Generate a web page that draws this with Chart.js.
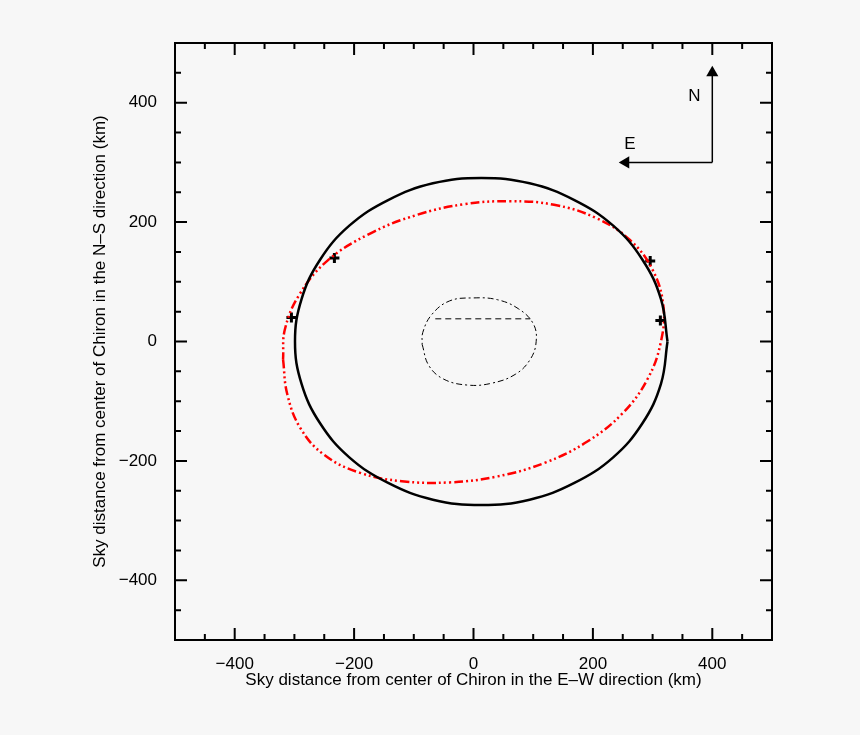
<!DOCTYPE html>
<html><head><meta charset="utf-8">
<script src="https://cdn.jsdelivr.net/npm/chart.js@4"></script>
<style>html,body{margin:0;padding:0;background:#f7f7f7}#w{width:860px;height:735px}</style>
</head><body><div id="w"><canvas id="c"></canvas></div>
<script>
const tickLabels=[-400,-200,0,200,400];
const blackX=[325,314,283,234,169,94,13,-68,-143,-208,-257,-288,-299,-288,-257,-208,-143,-68,13,94,169,234,283,314,325];
const blackY=[0,71,137,194,237,265,274,265,237,194,137,71,0,-71,-137,-194,-237,-265,-274,-265,-237,-194,-137,-71,0];
const redX=[-319,-312,-290,-250,-190,-120,-40,40,120,190,250,292,314,318,300,262,205,135,60,-15,-95,-175,-245,-292,-316,-319];
const redY=[-30,-88,-145,-190,-220,-234,-236,-226,-203,-168,-120,-62,0,60,120,170,207,229,235,230,212,180,135,78,20,-30];
const innerX=[-86,-75,-50,-10,30,70,95,105,100,75,40,0,-40,-70,-85,-86];
const innerY=[-5,-40,-63,-73,-70,-55,-30,0,30,55,70,73,68,45,15,-5];
const chordX=[-64,95], chordY=[38,38];
const crossX=[-305,-233,296,313], crossY=[40,140,135,35];
const arrowNX=[400,400], arrowNY=[300,450];
const arrowEX=[400,255], arrowEY=[300,300];
const pts=(xs,ys)=>xs.map((x,i)=>({x,y:ys[i]}));
const font={family:'Liberation Sans, Arial, sans-serif',size:17};
const ticksPlugin={id:'tk',afterDraw(ch){
 const c=ch.ctx,a=ch.chartArea,xs=ch.scales.x,ys=ch.scales.y;
 c.save();c.strokeStyle='#000';c.lineWidth=2;
 for(let v=-450;v<=450;v+=50){const L=(v%200===0)?12:6;
  const px=xs.getPixelForValue(v),py=ys.getPixelForValue(v);
  c.beginPath();c.moveTo(px,a.bottom);c.lineTo(px,a.bottom-L);c.moveTo(px,a.top);c.lineTo(px,a.top+L);
  c.moveTo(a.left,py);c.lineTo(a.left+L,py);c.moveTo(a.right,py);c.lineTo(a.right-L,py);c.stroke();}
 c.strokeRect(a.left,a.top,a.right-a.left,a.bottom-a.top);
 c.fillStyle='#000';c.font='17px Liberation Sans, Arial, sans-serif';c.textAlign='center';c.textBaseline='middle';
 c.fillText('N',xs.getPixelForValue(370),ys.getPixelForValue(410));
 c.fillText('E',xs.getPixelForValue(262),ys.getPixelForValue(330));
 c.restore();}};
new Chart(document.getElementById('c'),{type:'scatter',
 data:{datasets:[
  {data:pts(blackX,blackY),showLine:true,borderColor:'#000',borderWidth:2.5,pointRadius:0,tension:0.4},
  {data:pts(redX,redY),showLine:true,borderColor:'#f00',borderWidth:2.5,borderDash:[9,3,2,3,2,3,2,3],pointRadius:0,tension:0.4},
  {data:pts(innerX,innerY),showLine:true,borderColor:'#000',borderWidth:1,borderDash:[6,3,2,3],pointRadius:0,tension:0.4},
  {data:pts(chordX,chordY),showLine:true,borderColor:'#000',borderWidth:1,borderDash:[6,4],pointRadius:0},
  {data:pts(crossX,crossY),pointStyle:'cross',pointRadius:5,borderWidth:3,borderColor:'#000'},
  {data:pts(arrowNX,arrowNY),showLine:true,borderColor:'#000',borderWidth:1.5,pointStyle:'triangle',pointRadius:[0,7],backgroundColor:'#000',pointBorderWidth:0,pointRotation:0},
  {data:pts(arrowEX,arrowEY),showLine:true,borderColor:'#000',borderWidth:1.5,pointStyle:'triangle',pointRadius:[0,7],backgroundColor:'#000',pointBorderWidth:0,pointRotation:-90}
 ]},
 options:{responsive:true,maintainAspectRatio:false,animation:false,
  layout:{padding:{top:43,right:88,left:86,bottom:40}},
  plugins:{legend:{display:false},tooltip:{enabled:false}},
  scales:{
   x:{min:-500,max:500,grid:{display:false},border:{display:false},
    afterBuildTicks:s=>{s.ticks=tickLabels.map(v=>({value:v}));},
    afterFit:s=>{s.height=55;},
    ticks:{color:'#000',font,padding:6,maxRotation:0,callback:v=>String(v).replace('-','\u2212')},
    title:{display:true,text:'Sky distance from center of Chiron in the E\u2013W direction (km)',color:'#000',font,padding:{top:0}}},
   y:{min:-500,max:500,grid:{display:false},border:{display:false},
    afterBuildTicks:s=>{s.ticks=tickLabels.map(v=>({value:v}));},
    afterFit:s=>{s.width=89;},
    ticks:{color:'#000',font,padding:10,callback:v=>String(v).replace('-','\u2212')},
    title:{display:true,text:'Sky distance from center of Chiron in the N\u2013S direction (km)',color:'#000',font,padding:{bottom:0}}}
  }},
 plugins:[ticksPlugin]});
</script></body></html>
